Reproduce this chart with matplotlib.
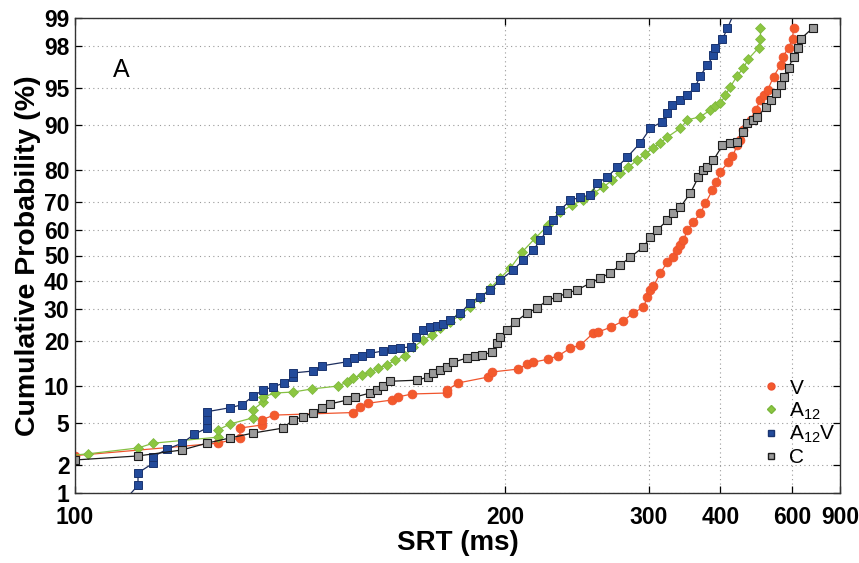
import math
from statistics import NormalDist

import numpy as np
import matplotlib
matplotlib.use("Agg")
import matplotlib.pyplot as plt
from matplotlib.lines import Line2D

plt.rcParams['font.family'] = ['Liberation Sans', 'DejaVu Sans']
plt.rcParams['mathtext.default'] = 'regular'

# SRT (ms) and cumulative probability (%)
rt_v = [100, 119.9, 123.7, 123.7, 127.8, 127.8, 130.1, 147.8, 149.6, 151.7, 158.4, 160.1,
        164.4, 176.2, 176.2, 180.3, 192.4, 194.1, 206.2, 210.8, 213.9, 222.2, 228.1, 235.6,
        242.3, 251.5, 255.2, 265.4, 275.6, 284.8, 294.5, 298.6, 301.8, 305.0, 312.7, 320.9,
        328.2, 333.3, 337.3, 341.3, 346.8, 355.4, 366.0, 373.9, 385.7, 392.7, 400, 415.5,
        423.6, 434.3, 441.0, 447.9, 464.9, 477.8, 491.4, 502.3, 511.9, 530.9, 554.8, 562.1,
        585.0, 601.4, 605.6]
pct_v = [2.5, 3.3, 3.7, 4.55, 4.85, 5.4, 5.9, 6.2, 6.9, 7.4, 7.85, 8.3,
         8.75, 8.9, 9.4, 10.6, 11.7, 12.7, 13.3, 14.4, 14.8, 15.5, 16.3, 18.2,
         19.0, 22.4, 22.7, 24.2, 26.1, 28.7, 30.7, 34.2, 36.8, 38.2, 43.2, 47.5,
         49.4, 52.1, 54.1, 56.0, 59.9, 62.8, 66.1, 69.6, 73.9, 76.4, 79.4, 82.0,
         83.5, 86.0, 87.1, 89.1, 90.8, 92.3, 93.6, 94.2, 94.7, 96.0, 96.9, 97.4,
         97.9, 98.3, 98.7]

rt_a = [97, 101.5, 107.9, 110.0, 119.9, 119.9, 122.0, 126.1, 126.1, 128.0, 128.0, 130.3,
        134.0, 138.0, 144.1, 146.3, 147.8, 150.1, 152.2, 154.4, 156.9, 159.3, 162.3, 164.8,
        168.0, 171.0, 173.7, 177.3, 181.1, 184.9, 189.0, 193.3, 197.7, 202.4, 208.2, 215.0,
        222.2, 229.3, 236.9, 244.3, 251.5, 259.0, 266.3, 273.0, 280.1, 288.6, 296.6, 305.0,
        312.7, 320.9, 337.3, 346.8, 366.0, 382.2, 390.9, 400, 409.5, 419.5, 434.3, 447.9,
        459.9, 485.9, 491.4, 491.4]
pct_a = [2.4, 2.6, 2.97, 3.3, 3.76, 4.37, 4.95, 5.6, 6.55, 7.6, 8.3, 8.9,
         9.06, 9.56, 10.06, 10.8, 11.5, 12.1, 12.7, 13.5, 14.2, 15.3, 16.3, 18.5,
         20.4, 21.8, 23.9, 25.8, 28.0, 30.8, 33.9, 37.5, 41.3, 45.1, 51.4, 56.8,
         61.7, 66.5, 69.0, 70.7, 72.9, 74.9, 77.0, 79.1, 80.7, 82.5, 84.0, 85.4,
         86.5, 87.7, 89.4, 90.8, 91.3, 92.3, 92.8, 93.2, 94.2, 95.1, 96.1, 96.7,
         97.3, 97.9, 98.3, 98.7]

rt_av = [106, 107.9, 107.9, 110.0, 110.0, 112.0, 114.2, 116.1, 118.1, 118.1, 118.1, 122.0,
         124.1, 126.1, 128.0, 129.9, 132.1, 134.0, 134.0, 138.3, 140.3, 146.3, 148.0, 150.1,
         152.2, 155.8, 158.4, 160.7, 164.1, 165.7, 168.0, 170.3, 172.7, 174.8, 177.3, 181.1,
         184.9, 189.0, 193.3, 197.7, 203.8, 208.7, 213.9, 217.7, 221.6, 225.1, 229.3, 235.6,
         242.3, 249.3, 254.4, 262.2, 270.4, 279.2, 291.5, 301.8, 315.0, 320.9, 327.0, 337.3,
         346.8, 358.3, 366.0, 377.2, 387.4, 390.9, 403.8, 413.5, 430]
pct_av = [0.8, 1.22, 1.66, 2.1, 2.44, 2.9, 3.3, 4.0, 4.55, 5.4, 6.3, 6.8,
          7.2, 8.4, 9.4, 9.9, 10.6, 11.7, 12.5, 12.9, 14.0, 14.9, 15.8, 16.3,
          16.9, 17.5, 18.0, 18.3, 18.5, 21.2, 23.3, 24.2, 24.5, 25.1, 26.4, 28.6,
          32.1, 34.2, 36.8, 40.5, 44.4, 48.2, 52.1, 56.0, 59.9, 63.6, 67.2, 70.6,
          71.6, 72.3, 76.1, 77.9, 80.7, 83.3, 86.5, 89.4, 90.5, 91.8, 93.0, 93.6,
          94.2, 95.1, 96.1, 96.9, 97.5, 97.9, 98.3, 98.7, 99.2]

rt_c = [100, 107.9, 114.2, 118.1, 122.0, 126.1, 131.9, 134.0, 136.1, 138.3, 140.3, 142.1,
        146.3, 148.3, 152.2, 154.1, 155.8, 157.8, 166.0, 169.6, 171.3, 173.7, 176.2, 178.4,
        183.8, 187.0, 189.8, 194.1, 196.3, 197.7, 200.9, 204.8, 210.8, 216.1, 221.6, 227.5,
        233.7, 240.2, 249.3, 256.7, 264.6, 273.0, 282.0, 294.5, 301.8, 309.4, 320.9, 328.2,
        337.3, 351.0, 362.9, 370.7, 377.2, 387.4, 403.8, 419.5, 434.3, 447.9, 457.4, 470.0,
        483.1, 505.9, 521.2, 537.5, 554.8, 565.8, 585.0, 605.6, 623.2, 637.0, 699.2]
pct_c = [2.26, 2.48, 2.84, 3.3, 3.7, 4.1, 4.55, 5.4, 5.7, 6.2, 6.8, 7.3,
         7.85, 8.3, 8.9, 9.4, 10.06, 10.9, 11.1, 11.7, 12.5, 13.1, 13.8, 14.8,
         15.8, 16.3, 16.5, 17.2, 19.6, 21.2, 23.3, 25.8, 28.7, 30.4, 33.1, 34.2,
         35.7, 36.8, 39.4, 41.3, 43.2, 46.3, 49.4, 53.3, 57.2, 59.9, 63.6, 66.1,
         68.3, 73.0, 77.9, 79.9, 80.7, 82.5, 86.0, 86.5, 86.7, 88.7, 90.3, 90.8,
         91.2, 92.7, 93.6, 94.4, 95.3, 96.0, 96.7, 97.4, 97.9, 98.3, 98.7]

x_ticks = [100, 200, 300, 400, 600, 900]
y_ticks = [1, 2, 5, 10, 20, 30, 40, 50, 60, 70, 80, 90, 95, 98, 99]

labels = ['V', 'A$_{12}$', 'A$_{12}$V', 'C']


# reciprocal time axis (-1/RT) and probit probability axis
def recip(x):
    x = np.asarray(x, dtype=float)
    with np.errstate(divide='ignore', invalid='ignore'):
        return -1.0 / x


_nd = NormalDist()


def _ppf1(p):
    if not np.isfinite(p):
        return np.nan
    return _nd.inv_cdf(min(max(p / 100.0, 1e-9), 1 - 1e-9))


def _cdf1(z):
    if not np.isfinite(z):
        return np.nan if np.isnan(z) else (100.0 if z > 0 else 0.0)
    return 50.0 * (1.0 + math.erf(z / math.sqrt(2.0)))


_ppf = np.vectorize(_ppf1, otypes=[float])
_cdf = np.vectorize(_cdf1, otypes=[float])


def probit(p):
    return _ppf(np.asarray(p, dtype=float))


def probit_inv(z):
    return _cdf(np.asarray(z, dtype=float))


fig = plt.figure(figsize=(8.59, 5.63), dpi=100)
ax = fig.add_axes([75 / 859, 70 / 563, 765 / 859, 475 / 563])
ax.set_xscale('function', functions=(recip, recip))
ax.set_yscale('function', functions=(probit, probit_inv))

ax.plot(rt_v, pct_v, color='#f0552d', lw=0.9, marker='o', ms=6.4,
        mfc='#f35a2c', mec='#ee5030', mew=0.5)
ax.plot(rt_a, pct_a, color='#86c043', lw=0.9, marker='D', ms=5.4,
        mfc='#8cc641', mec='#7ab63c', mew=0.5)
ax.plot(rt_av, pct_av, color='#1c2d5e', lw=0.9, marker='s', ms=5.8,
        mfc='#234b9b', mec='#1a3470', mew=0.7)
ax.plot(rt_c, pct_c, color='#1a1a1a', lw=0.9, marker='s', ms=5.6,
        mfc='#9a9a9a', mec='#1c1c1c', mew=0.8)

ax.set_xlim(100, 900)
ax.set_ylim(1, 99)
ax.set_xticks(x_ticks)
ax.set_xticklabels([str(t) for t in x_ticks])
ax.set_yticks(y_ticks)
ax.set_yticklabels([str(t) for t in y_ticks])
ax.minorticks_off()

ax.grid(True, linestyle=(0, (1, 3)), color='#9a9a9a', linewidth=0.8)
ax.tick_params(direction='in', top=True, right=True, length=5, width=0.9,
               labelsize=16.5)
ax.tick_params(axis='x', pad=9)
ax.tick_params(axis='y', pad=4)
for lab in ax.get_xticklabels() + ax.get_yticklabels():
    lab.set_fontweight('bold')
for sp in ax.spines.values():
    sp.set_linewidth(1.0)
    sp.set_color('#333333')

ax.set_xlabel('SRT (ms)', fontsize=20, fontweight='bold', labelpad=1)
ax.set_ylabel('Cumulative Probability (%)', fontsize=20.5, fontweight='bold', labelpad=2)

ax.text(0.061, 0.89, 'A', transform=ax.transAxes, fontsize=18,
        ha='center', va='center')

handles = [
    Line2D([], [], ls='none', marker='o', ms=5, mfc='#f35a2c', mec='#ee5030'),
    Line2D([], [], ls='none', marker='D', ms=4.2, mfc='#8cc641', mec='#7ab63c'),
    Line2D([], [], ls='none', marker='s', ms=4.5, mfc='#234b9b', mec='#1a3470'),
    Line2D([], [], ls='none', marker='s', ms=4.5, mfc='#9a9a9a', mec='#1c1c1c'),
]
ax.legend(handles, labels, loc='lower right', bbox_to_anchor=(0.995, 0.055),
          frameon=False, fontsize=15, handlelength=0.8, handletextpad=0.5,
          labelspacing=0.12, borderaxespad=0, borderpad=0)

fig.savefig('out.png', dpi=100)
